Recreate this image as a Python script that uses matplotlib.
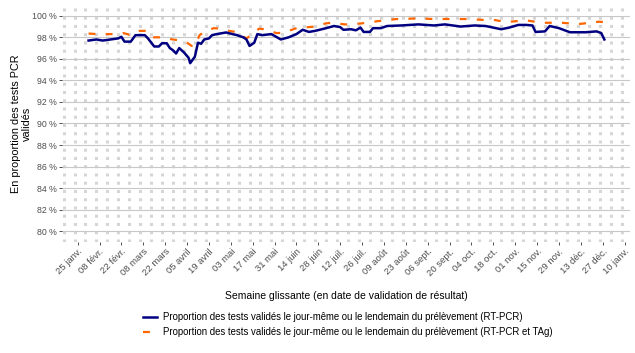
import pandas as pd
import matplotlib
matplotlib.use("Agg")
import matplotlib.pyplot as plt
from matplotlib.lines import Line2D

plt.rcParams['font.family'] = ['Liberation Sans', 'DejaVu Sans']

# Proportion validée J0/J1 (RT-PCR)
rtpcr_dates = ["2021-02-01", "2021-02-06", "2021-02-10", "2021-02-15", "2021-02-20", "2021-02-22",
               "2021-02-24", "2021-02-28", "2021-03-03", "2021-03-09", "2021-03-11", "2021-03-15",
               "2021-03-18", "2021-03-20", "2021-03-23", "2021-03-25", "2021-03-27", "2021-03-29",
               "2021-03-31", "2021-04-03", "2021-04-06", "2021-04-07", "2021-04-08", "2021-04-10",
               "2021-04-12", "2021-04-14", "2021-04-16", "2021-04-19", "2021-04-21", "2021-04-24",
               "2021-04-30", "2021-05-04", "2021-05-07", "2021-05-11", "2021-05-13", "2021-05-15",
               "2021-05-18", "2021-05-20", "2021-05-23", "2021-05-29", "2021-06-04", "2021-06-09",
               "2021-06-14", "2021-06-18", "2021-06-22", "2021-06-26", "2021-07-03", "2021-07-08",
               "2021-07-12", "2021-07-14", "2021-07-19", "2021-07-22", "2021-07-25", "2021-07-27",
               "2021-07-31", "2021-08-02", "2021-08-07", "2021-08-11", "2021-08-20", "2021-08-31",
               "2021-09-10", "2021-09-17", "2021-09-27", "2021-10-06", "2021-10-13", "2021-10-23",
               "2021-10-28", "2021-11-03", "2021-11-08", "2021-11-12", "2021-11-14", "2021-11-20",
               "2021-11-23", "2021-11-29", "2021-12-06", "2021-12-16", "2021-12-23", "2021-12-26",
               "2021-12-28"]
rtpcr_vals = [97.7, 97.8, 97.7, 97.8, 97.9, 98.05,
              97.6, 97.6, 98.2, 98.2, 97.9, 97.15,
              97.15, 97.45, 97.45, 97.0, 96.8, 96.5,
              97.0, 96.6, 96.1, 95.6, 95.8, 96.2,
              97.5, 97.4, 97.8, 97.9, 98.2, 98.3,
              98.45, 98.3, 98.2, 98.0, 97.8, 97.2,
              97.5, 98.3, 98.2, 98.3, 97.8, 98.0,
              98.3, 98.7, 98.5, 98.6, 98.85, 99.05,
              98.95, 98.7, 98.75, 98.65, 98.9, 98.5,
              98.5, 98.85, 98.85, 99.05, 99.1, 99.2,
              99.1, 99.2, 99.0, 99.1, 99.05, 98.75,
              98.9, 99.15, 99.15, 99.1, 98.5, 98.55,
              99.05, 98.85, 98.47, 98.47, 98.55, 98.4,
              97.8]

# Proportion validée J0/J1 (RT-PCR et TAg)
tag_dates = ["2021-02-01", "2021-02-06", "2021-02-12", "2021-02-17", "2021-02-23", "2021-02-27",
             "2021-03-04", "2021-03-10", "2021-03-14", "2021-03-18", "2021-03-23", "2021-03-27",
             "2021-04-01", "2021-04-04", "2021-04-08", "2021-04-10", "2021-04-13", "2021-04-16",
             "2021-04-22", "2021-04-27", "2021-05-02", "2021-05-06", "2021-05-13", "2021-05-16",
             "2021-05-21", "2021-05-25", "2021-06-01", "2021-06-05", "2021-06-11", "2021-06-15",
             "2021-06-22", "2021-06-26", "2021-07-03", "2021-07-07", "2021-07-15", "2021-07-19",
             "2021-07-26", "2021-07-29", "2021-08-05", "2021-08-09", "2021-08-17", "2021-08-21",
             "2021-08-29", "2021-09-02", "2021-09-09", "2021-09-14", "2021-09-21", "2021-09-25",
             "2021-10-03", "2021-10-07", "2021-10-14", "2021-10-19", "2021-10-25", "2021-10-29",
             "2021-11-05", "2021-11-09", "2021-11-16", "2021-11-20", "2021-11-27", "2021-12-01",
             "2021-12-09", "2021-12-13", "2021-12-21", "2021-12-25", "2021-12-28"]
tag_vals = [98.35, 98.3, 98.3, 98.3, 98.4, 98.25,
            98.6, 98.6, 98.0, 98.0, 97.9, 97.8,
            97.7, 97.6, 97.2, 97.2, 98.2, 98.5,
            98.85, 98.8, 98.6, 98.5, 97.9, 98.2,
            98.8, 98.75, 98.4, 98.4, 98.7, 98.9,
            98.95, 99.0, 99.3, 99.35, 99.2, 99.2,
            99.3, 99.35, 99.5, 99.55, 99.7, 99.7,
            99.75, 99.75, 99.7, 99.7, 99.7, 99.7,
            99.7, 99.65, 99.6, 99.6, 99.45, 99.45,
            99.55, 99.55, 99.4, 99.35, 99.35, 99.35,
            99.25, 99.25, 99.4, 99.45, 99.4]

tick_labels = ["25 janv.", "08 févr.", "22 févr.", "08 mars", "22 mars", "05 avril", "19 avril",
               "03 mai", "17 mai", "31 mai", "14 juin", "28 juin", "12 juil.", "26 juil.",
               "09 août", "23 août", "06 sept.", "20 sept.", "04 oct.", "18 oct.", "01 nov.",
               "15 nov.", "29 nov.", "13 déc.", "27 déc.", "10 janv."]
y_ticks = [80, 82, 84, 86, 88, 90, 92, 94, 96, 98, 100]

label_rtpcr = "Proportion des tests validés le jour-même ou le lendemain du prélèvement (RT-PCR)"
label_tag = "Proportion des tests validés le jour-même ou le lendemain du prélèvement (RT-PCR et TAg)"

blue = "#000080"
orange = "#FF6600"
dash = (0, (3.1, 4.6))

fig = plt.figure(figsize=(6.35, 3.53), dpi=100)
ax = fig.add_axes([62 / 635, 1 - 242 / 353, (630 - 62) / 635, (242 - 5) / 353])

ax.plot(pd.to_datetime(tag_dates), tag_vals, color=orange, lw=1.6, linestyle=dash,
        dash_capstyle="butt", zorder=3)
ax.plot(pd.to_datetime(rtpcr_dates), rtpcr_vals, color=blue, lw=1.8, zorder=4)

ax.set_xlim(pd.Timestamp("2021-01-15"), pd.Timestamp("2022-01-13 10:00"))
ax.set_ylim(79, 101)

tick_dates = pd.date_range("2021-01-25", periods=len(tick_labels), freq="14D")
ax.set_xticks(tick_dates)
ax.set_xticklabels(tick_labels, rotation=45, ha="right", rotation_mode="anchor",
                   fontsize=6.8, color="#4d4d4d")
ax.set_xticks(pd.date_range("2021-01-16", "2022-01-13", freq="7D"), minor=True)
ax.set_yticks(y_ticks)
ax.set_yticklabels([f"{v} %" for v in y_ticks], fontsize=6.3, color="#4d4d4d")

ax.tick_params(which="major", length=2.2, width=0.6, color="#333333", pad=1.5)
ax.tick_params(which="minor", length=0)

ax.grid(which="minor", axis="x", color="#d6d6d6", linewidth=2.2, linestyle=(0, (1, 1.7)))
ax.grid(which="major", axis="y", color="#c8c8c8", linewidth=0.8)
ax.set_axisbelow(True)
for s in ax.spines.values():
    s.set_visible(False)

ax.set_ylabel("En proportion des tests PCR\nvalidés", fontsize=7.8, linespacing=1.1)
ax.yaxis.set_label_coords(-0.053, 0.5)
ax.set_xlabel("Semaine glissante (en date de validation de résultat)", fontsize=7.5)
ax.xaxis.set_label_coords(0.5, -0.205)

handles = [Line2D([], [], color=blue, lw=1.8),
           Line2D([], [], color=orange, lw=1.6, linestyle=dash, dash_capstyle="butt")]
fig.legend(handles, [label_rtpcr, label_tag], loc="upper left",
           bbox_to_anchor=(143 / 635, 1 - 312 / 353), frameon=False, fontsize=6.9,
           handlelength=1.5, handletextpad=0.62, labelspacing=0.55,
           borderpad=0, borderaxespad=0)

fig.savefig("out.png", dpi=100)
